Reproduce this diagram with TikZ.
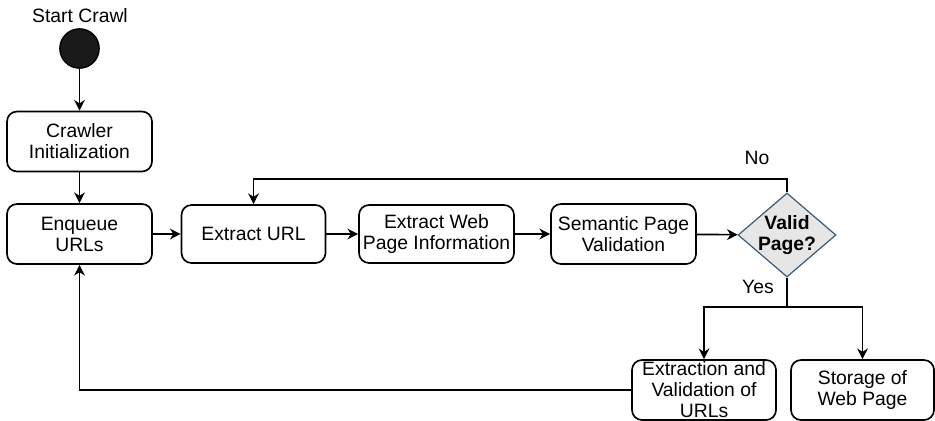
\documentclass[tikz,border=0pt]{standalone}
\usepackage{fontspec}
\setmainfont{Liberation Sans}
\usetikzlibrary{shapes.geometric,arrows.meta}
\definecolor{dianode}{HTML}{E6E6E6}
\definecolor{diaedge}{HTML}{3D5A73}
\definecolor{startfill}{HTML}{1A1A1A}
\tikzset{
  txt/.style={font=\fontsize{14.5pt}{15.75pt}\selectfont, text=black},
  stepbox/.style={txt, draw=black, line width=1.25pt, rounded corners=7.5pt,
    align=center, inner sep=0pt, minimum height=45pt},
  arr/.style={draw=black, line width=1.25pt,
    -{Stealth[length=8pt,width=8pt,inset=2.5pt]}},
  link/.style={draw=black, line width=1.25pt},
}
\begin{document}
\begin{tikzpicture}[x=0.75pt,y=-0.75pt]
\useasboundingbox (0,0) rectangle (935,421);

% start
\node[txt] (startlbl) at (80,16) {Start Crawl};
\node[circle, fill=startfill, draw=black, line width=1pt, minimum size=29.5pt, inner sep=0pt] (start) at (79.5,48.5) {};

% main chain
\node[stepbox, minimum width=108.75pt] (init) at (79.5,141.5) {Crawler\\Initialization};
\node[stepbox, minimum width=108.75pt] (enq) at (79.5,234) {Enqueue\\URLs};
\node[stepbox, minimum width=108pt, minimum height=43.5pt] (url) at (253.5,234) {Extract URL};
\node[stepbox, minimum width=116.25pt, minimum height=43.5pt] (info) at (436.5,234) {Extract Web\\Page Information};
\node[stepbox, minimum width=108.75pt] (sem) at (623.5,234) {Semantic Page\\Validation};

% decision
\node[diamond, draw=diaedge, fill=dianode, line width=0.9pt, minimum width=73.5pt, minimum height=63pt, inner sep=0pt] (dia) at (787,235) {};
\node[txt, font=\fontsize{14.5pt}{15.75pt}\selectfont\bfseries, align=center] (dialbl) at (dia.center) {Valid\\Page?};

% results
\node[stepbox, minimum width=108pt] (ext) at (704,390) {Extraction and\\Validation of\\URLs};
\node[stepbox, minimum width=107.25pt] (sto) at (862.5,390) {Storage of\\Web Page};

% connectors
\draw[arr] (start) -- (init);
\draw[arr] (init) -- (enq);
\draw[arr] (enq) -- (url);
\draw[arr] (url) -- (info);
\draw[arr] (info) -- (sem);
\draw[arr] (sem) -- (dia);

\coordinate (notop) at (787,179);
\draw[arr] (dia.north) -- (notop) -| (url.north);
\node[txt] (nolbl) at (757,158) {No};

\coordinate (split) at (787,307);
\draw[link] (dia.south) -- (split);
\draw[arr] (split) -| (ext.north);
\draw[arr] (split) -| (sto.north);
\node[txt] (yeslbl) at (758,287) {Yes};

\draw[arr] (ext.west) -| (enq.south);
\end{tikzpicture}
\end{document}
